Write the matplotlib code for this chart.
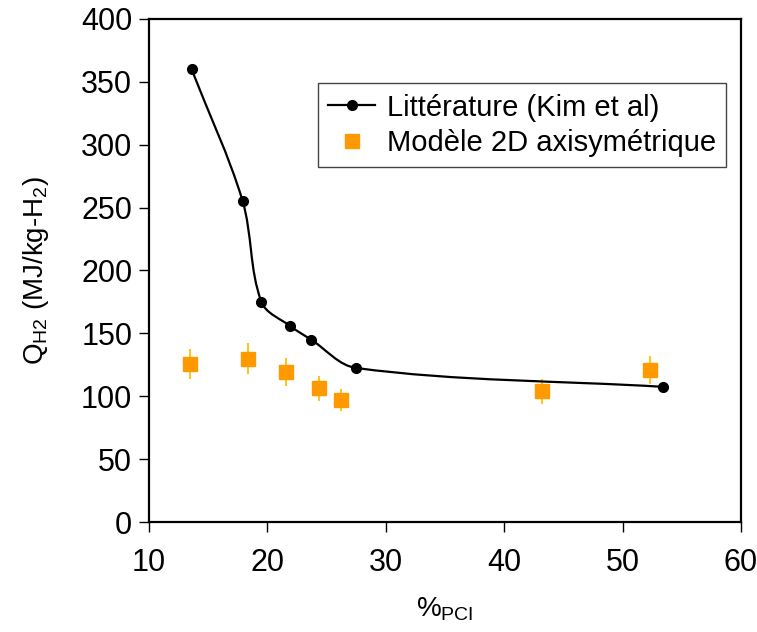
import matplotlib
matplotlib.use("Agg")
import matplotlib.pyplot as plt
import numpy as np
from matplotlib.path import Path
from matplotlib.patches import PathPatch
from matplotlib.lines import Line2D

plt.rcParams['font.family'] = ['Liberation Sans', 'DejaVu Sans']
plt.rcParams['mathtext.fontset'] = 'custom'
plt.rcParams['mathtext.rm'] = 'Liberation Sans'
plt.rcParams['mathtext.it'] = 'Liberation Sans'

# Data
lit_x = [13.6, 17.9, 19.5, 21.9, 23.7, 27.5, 53.4]
lit_y = [360, 255.5, 175, 156, 145, 122.5, 107.5]
mod_x = [13.45, 18.4, 21.6, 24.4, 26.2, 43.2, 52.3]
mod_y = [125.5, 130, 119.5, 106.5, 97, 104, 121]
mod_err = [12, 12, 11, 10, 9, 10, 11]
xticks = [10, 20, 30, 40, 50, 60]
yticks = [0, 50, 100, 150, 200, 250, 300, 350, 400]

fig = plt.figure(figsize=(7.57, 6.32), dpi=100)
ax = fig.add_axes([0.1968, 0.174, 0.782, 0.796])
ax.set_xlim(10, 60)
ax.set_ylim(0, 400)

# smooth curve (tangent-scaled cubic Bezier in display space)
P = ax.transData.transform(np.column_stack([lit_x, lit_y]).astype(float))
n = len(P)
tang = np.zeros_like(P)
for i in range(n):
    a = P[max(i - 1, 0)]
    b = P[min(i + 1, n - 1)]
    d = b - a
    tang[i] = d / np.hypot(*d)
verts = [P[0]]
codes = [Path.MOVETO]
for i in range(n - 1):
    L = np.hypot(*(P[i + 1] - P[i]))
    c1 = P[i] + tang[i] * L / 3.0
    c2 = P[i + 1] - tang[i + 1] * L / 3.0
    verts += [c1, c2, P[i + 1]]
    codes += [Path.CURVE4] * 3
verts = ax.transData.inverted().transform(np.array(verts))
ax.add_patch(PathPatch(Path(verts, codes), facecolor='none', edgecolor='black', lw=1.6, zorder=3))
ax.plot(lit_x, lit_y, 'o', color='black', ms=7, zorder=4)

ax.errorbar(mod_x, mod_y, yerr=mod_err, fmt='none', ecolor='#FFC000', elinewidth=1.3, capsize=0, zorder=2)
ax.plot(mod_x, mod_y, 's', color='#FF9900', ms=10, mec='#FF9900', zorder=3)

ax.set_xticks(xticks)
ax.set_yticks(yticks)
ax.tick_params(axis='both', direction='out', length=7, width=1, labelsize=22, pad=5)
ax.tick_params(axis='x', pad=12)
for s in ax.spines.values():
    s.set_linewidth(1.6)

ax.set_xlabel(r'%$_{\mathrm{PCI}}$', fontsize=20, labelpad=12)
ax.set_ylabel(r'Q$_{\mathrm{H2}}$ (MJ/kg-H$_2$)', fontsize=20, labelpad=22)

handles = [
    Line2D([0], [0], color='black', lw=1.6, marker='o', ms=7),
    Line2D([0], [0], color='#FF9900', lw=0, marker='s', ms=10),
]
leg = ax.legend(handles, ['Littérature (Kim et al)', 'Modèle 2D axisymétrique'],
                loc='upper left', bbox_to_anchor=(0.286, 0.872), borderaxespad=0,
                fontsize=21, frameon=True, fancybox=False, edgecolor='#444444',
                framealpha=1, handlelength=1.6, handletextpad=0.4,
                borderpad=0.35, labelspacing=0.25)
leg.get_frame().set_linewidth(1.0)

fig.savefig('out.png', dpi=100)
